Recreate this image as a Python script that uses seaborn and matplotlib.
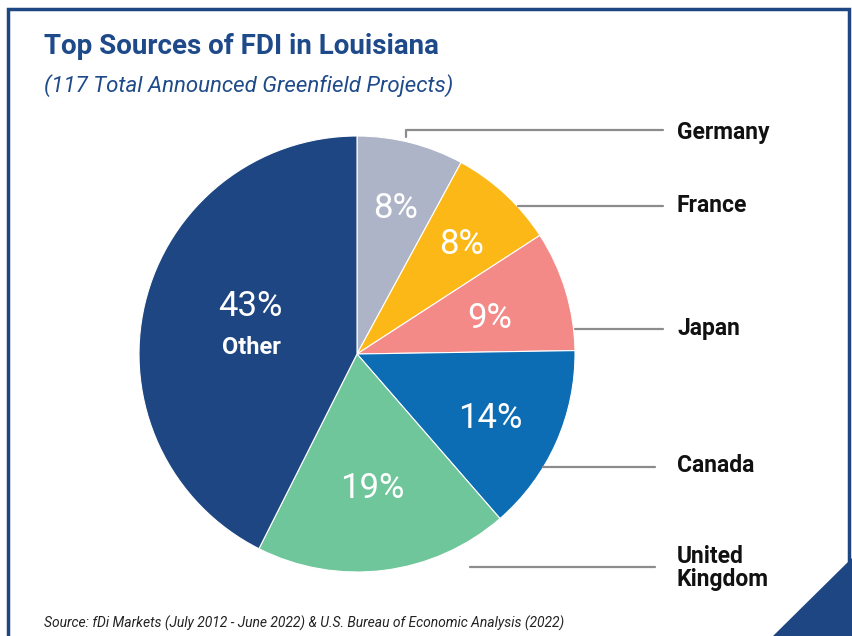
import matplotlib
matplotlib.use('Agg')
import matplotlib.pyplot as plt
from matplotlib.patches import Polygon
import seaborn as sns

sns.set_theme(style='white')
plt.rcParams['font.family'] = ['Roboto', 'DejaVu Sans']

# data
countries = ['Germany', 'France', 'Japan', 'Canada', 'United\nKingdom', 'Other']
shares = [8, 8, 9, 14, 19, 43]
pct_labels = ['8%', '8%', '9%', '14%', '19%', '43%']
colors = ['#aeb4c8', '#fbb817', '#f38a87', '#0d6db4', '#6fc69b', '#1d4682']

W, H = 852, 636
fig = plt.figure(figsize=(W / 100, H / 100), dpi=100)
ax = fig.add_axes([0, 0, 1, 1])

def Y(py):
    return H - py

cx, cy, r = 357, Y(354), 218
wedges, _ = ax.pie(shares, colors=colors, startangle=90, counterclock=False,
                   center=(cx, cy), radius=r, frame=True,
                   wedgeprops=dict(edgecolor='white', linewidth=0.8))
ax.set_xlim(0, W)
ax.set_ylim(0, H)
ax.set_aspect('auto')
ax.axis('off')

# percent labels
pct_pos = [(396, 208), (462, 245), (490, 318), (490, 418), (372, 489), (250, 307)]
for lab, (px, py) in zip(pct_labels, pct_pos):
    ax.text(px, Y(py), lab, color='white', fontsize=25, ha='center', va='center')
ax.text(251, Y(347), 'Other', color='white', fontsize=17, fontweight='bold',
        ha='center', va='center')

# leader lines
lc = '#8c8c8c'
ax.plot([406, 406, 663], [Y(137), Y(130), Y(130)], color=lc, lw=1.6)
ax.plot([518, 663], [Y(206), Y(206)], color=lc, lw=1.6)
ax.plot([575, 663], [Y(329), Y(329)], color=lc, lw=1.6)
ax.plot([543, 655], [Y(467), Y(467)], color=lc, lw=1.6)
ax.plot([470, 655], [Y(567), Y(567)], color=lc, lw=1.6)

label_pos = [(677, 133), (677, 206), (677, 328), (677, 466), (677, 568)]
for name, (px, py) in zip(countries[:5], label_pos):
    ax.text(px, Y(py), name, fontsize=16.5, fontweight='bold', color='#111111',
            ha='left', va='center', linespacing=1.05)

# titles
ax.text(44, Y(47), 'Top Sources of FDI in Louisiana', fontsize=20, fontweight='bold',
        color='#1f4a8a', ha='left', va='center')
ax.text(44, Y(86), '(117 Total Announced Greenfield Projects)', fontsize=16,
        fontstyle='italic', color='#1f4a8a', ha='left', va='center')
ax.text(44, Y(623), 'Source: fDi Markets (July 2012 - June 2022) & U.S. Bureau of Economic Analysis (2022)',
        fontsize=10, fontstyle='italic', color='#222222', ha='left', va='center')

# frame
navy = '#1d4682'
ax.plot([8, 8, 849, 849], [0, Y(9), Y(9), Y(562)], color=navy, lw=2.5,
        solid_joinstyle='miter')
ax.add_patch(Polygon([(W, Y(558)), (W, 0), (773, 0)], closed=True, color=navy))

fig.savefig('out.png', dpi=100)
